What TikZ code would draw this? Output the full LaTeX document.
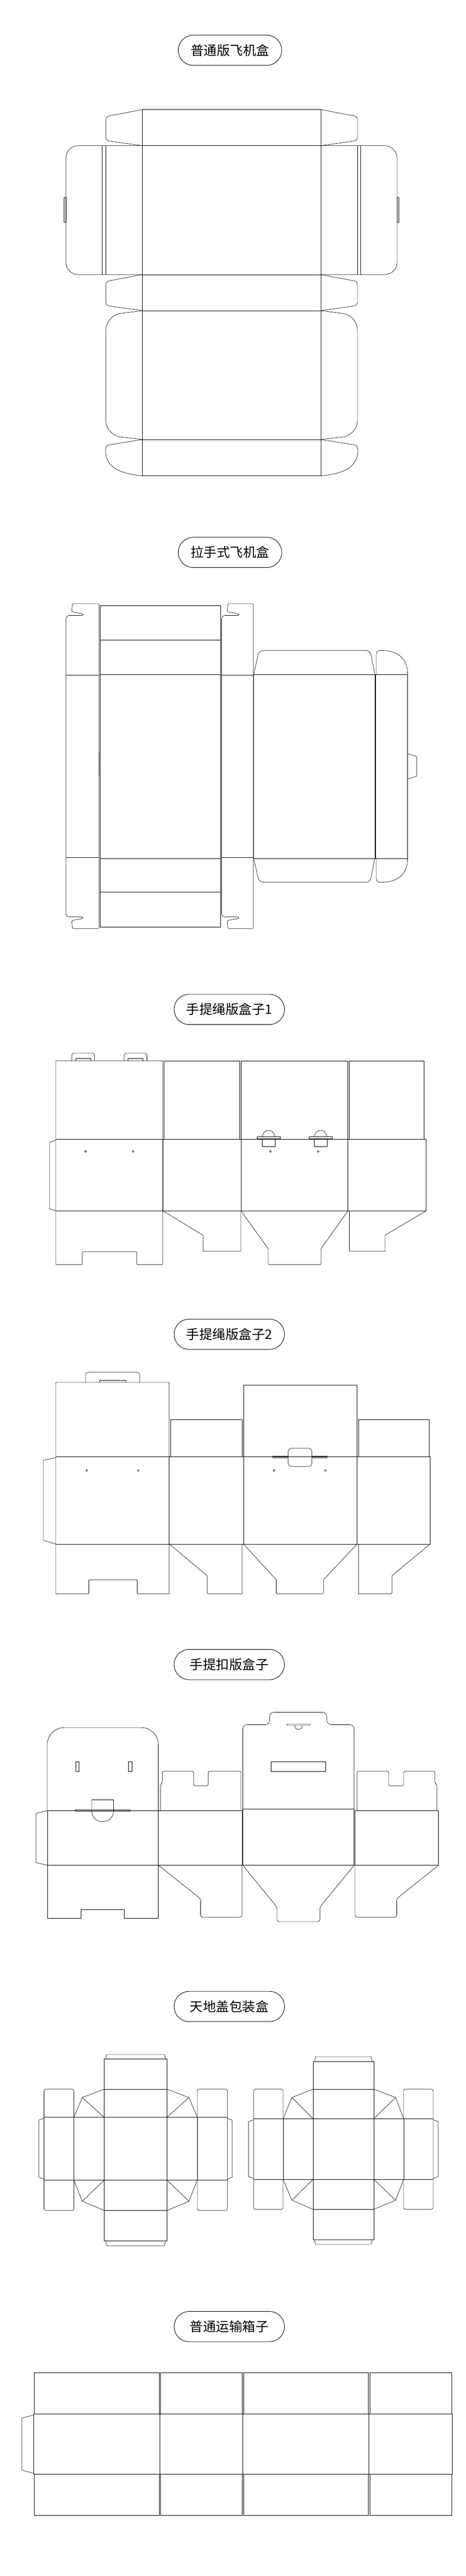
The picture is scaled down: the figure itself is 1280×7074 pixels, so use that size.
\documentclass[tikz,border=0pt]{standalone}
\usepackage{fontspec}
\newfontfamily\cjk{Noto Sans CJK SC}
\begin{document}
\begin{tikzpicture}[x=1pt,y=-1pt,line width=0.9pt,line join=round,
  pill/.style={draw,line width=1.3pt,rounded corners=41pt,minimum height=83pt,inner sep=0pt,font=\cjk\fontsize{36}{36}\selectfont}]
\useasboundingbox (0,0) rectangle (1280,7074);
% ===== titles
\node[pill,minimum width=284pt] (t1) at (632,138) {普通版飞机盒};
\node[pill,minimum width=284pt] (t2) at (632,1517) {拉手式飞机盒};
\node[pill,minimum width=303pt] (t3) at (630,2772) {手提绳版盒子1};
\node[pill,minimum width=303pt] (t4) at (630,3664) {手提绳版盒子2};
\node[pill,minimum width=303pt] (t5) at (630,4571) {手提扣版盒子};
\node[pill,minimum width=303pt] (t6) at (630,5510) {天地盖包装盒};
\node[pill,minimum width=303pt] (t7) at (630,6389) {普通运输箱子};
% ===== section 1
\draw (391,301) rectangle (882,1307);
\foreach \y in {400,754,853,1207} \draw (391,\y) -- (882,\y);
\foreach \a/\b in {301/400,754/853}{
  \draw[rounded corners=8] (391,\a) -- (291,\a+19) -- (291,\b-14) -- (391,\b);
  \draw[rounded corners=8] (882,\a) -- (982,\a+19) -- (982,\b-14) -- (882,\b);}
\draw[rounded corners=34] (391,400) -- (181,400) -- (181,754) -- (391,754);
\draw[rounded corners=34] (882,400) -- (1091,400) -- (1091,754) -- (882,754);
\draw (281,400) -- (281,754) (291,400) -- (291,754) (982,400) -- (982,754) (991,400) -- (991,754);
\draw (181,543) rectangle (176,610) (1091,543) rectangle (1096,610);
\draw[rounded corners=40] (391,853) -- (291,866) -- (291,1195) -- (391,1207);
\draw[rounded corners=40] (882,853) -- (982,866) -- (982,1195) -- (882,1207);
\draw (391,1207) -- (297,1222) .. controls (289,1224) and (288,1240) .. (292,1254) .. controls (302,1285) and (325,1299) .. (391,1307);
\draw (882,1207) -- (976,1222) .. controls (984,1224) and (985,1240) .. (981,1254) .. controls (971,1285) and (948,1299) .. (882,1307);
% ===== section 2
\draw[rounded corners=3] (272,1658) -- (199,1658) -- (197,1680) -- (228,1686) -- (228,1690) -- (186,1690) -- (181,1697) -- (181,2512) -- (186,2518) -- (228,2518) -- (228,2522) -- (197,2528) -- (199,2550) -- (272,2550) -- cycle;
\draw (181,1854) -- (272,1854) (181,2354) -- (272,2354);
\draw (275,1663) rectangle (606,2546);
\foreach \y in {1758,1852,2357,2450} \draw (275,\y) -- (606,\y);
\draw[rounded corners=3] (696,1658) -- (626,1658) -- (624,1680) -- (656,1686) -- (656,1690) -- (614,1690) -- (609,1697) -- (609,2512) -- (614,2518) -- (656,2518) -- (656,2522) -- (624,2528) -- (626,2550) -- (696,2550) -- cycle;
\draw (609,1854) -- (696,1854) (609,2354) -- (696,2354);
\draw (697,1852) rectangle (1030,2357);
\draw[rounded corners=12] (697,1852) -- (712,1786) -- (1017,1786) -- (1030,1852);
\draw[rounded corners=12] (697,2357) -- (712,2423) -- (1017,2423) -- (1030,2357);
\draw (1032,1852) rectangle (1120,2357);
\draw (1034,1852) -- (1034,1796) .. controls (1034,1790) and (1038,1786) .. (1046,1786) .. controls (1095,1786) and (1120,1810) .. (1120,1852);
\draw (1034,2357) -- (1034,2413) .. controls (1034,2419) and (1038,2423) .. (1046,2423) .. controls (1095,2423) and (1120,2399) .. (1120,2357);
\draw[rounded corners=3] (1120,2070) -- (1145,2077) -- (1145,2132) -- (1120,2139);
\draw (272,2065) -- (272,2130);
% ===== section 3
\draw[rounded corners=2] (153,2913) -- (447,2913) -- (447,3473) -- (376,3473) -- (376,3437) -- (226,3437) -- (226,3473) -- (153,3473) -- cycle;
\draw (153,3129) -- (447,3129) (153,3325) -- (447,3325);
\foreach \a/\b in {197/260,341/404}{
  \draw[rounded corners=6] (\a,2913) -- (\a,2892) -- (\b,2892) -- (\b,2913);
  \draw (\a+11,2913) -- (\a+11,2907) -- (\b-11,2907) -- (\b-11,2913);}
\foreach \x in {235,366} \draw (\x,3162) circle (2.5);
\draw (153,3131) -- (136,3137) -- (136,3319) -- (153,3325);
\draw (451,3129) -- (451,2913) -- (658,2913) -- (658,3129);
\draw (447,3129) rectangle (662,3325);
\draw (447,3325) -- (558,3392) -- (558,3436) -- (662,3436) -- (662,3325);
\draw (662,2913) rectangle (956,3325);
\draw (662,3129) -- (956,3129);
\foreach \a in {706,849}{
  \draw (\a,3122) rectangle (\a+64,3127);
  \draw (\a+14,3127) rectangle (\a+50,3148);
  \draw (\a+14,3122) .. controls (\a+18,3108) and (\a+24,3104) .. (\a+32,3104) .. controls (\a+40,3104) and (\a+46,3108) .. (\a+50,3122);}
\foreach \x in {743,874} \draw (\x,3162) circle (2.5);
\draw (662,3325) -- (737,3429) -- (737,3470) -- (740,3473) -- (879,3473) -- (882,3470) -- (882,3429) -- (956,3325);
\draw (960,3129) -- (960,2913) -- (1165,2913) -- (1165,3129);
\draw (956,3129) rectangle (1171,3325);
\draw (960,3325) -- (960,3436) -- (1058,3436) -- (1058,3392) -- (1171,3325);
% ===== section 4
\draw[rounded corners=2] (153,3796) -- (465,3796) -- (465,4377) -- (377,4377) -- (377,4338) -- (244,4338) -- (244,4377) -- (153,4377) -- cycle;
\draw (153,4000) -- (465,4000) (153,4240) -- (465,4240);
\draw[rounded corners=8] (235,3798) -- (235,3768) -- (384,3768) -- (384,3798);
\draw (273,3796) -- (273,3790) -- (345,3790) -- (345,3796);
\foreach \x in {238,380,753,894} \draw (\x,4038) circle (2.5);
\draw (153,4003) -- (119,4010) -- (119,4230) -- (153,4240);
\draw (469,4000) -- (469,3898) -- (665,3898) -- (665,4000);
\draw (465,4000) rectangle (669,4240);
\draw (465,4240) -- (569,4327) -- (569,4374) -- (572,4377) -- (665,4377) -- (665,4240);
\draw (669,3803) rectangle (981,4240);
\draw (669,4000) -- (981,4000);
\draw (748,3998) -- (792,3998) (857,3998) -- (900,3998) (748,4003) -- (792,4003) (857,4003) -- (900,4003);
\draw[rounded corners=8] (792,4027) -- (792,3977) -- (857,3977) -- (857,4027) -- cycle;
\draw (669,4240) -- (759,4338) -- (759,4374) -- (762,4377) -- (886,4377) -- (889,4374) -- (889,4338) -- (981,4240);
\draw (985,4000) -- (985,3898) -- (1179,3898) -- (1179,4000);
\draw (981,4000) rectangle (1182,4240);
\draw (985,4240) -- (985,4377) -- (1074,4377) -- (1077,4374) -- (1077,4327) -- (1182,4240);
% ===== section 5
\draw[rounded corners=47] (130,4972) -- (130,4744) -- (435,4744) -- (435,4972);
\draw (130,4972) rectangle (435,5122);
\draw (130,5122) -- (130,5268) -- (222,5268) -- (222,5243) -- (342,5243) -- (342,5268) -- (435,5268) -- (435,5122);
\draw (209,4837) rectangle (217,4864) (353,4837) rectangle (362,4864);
\draw[rounded corners=28] (252,4942) -- (252,5002) -- (312,5002) -- (312,4942);
\draw (252,4942) -- (312,4942);
\draw[rounded corners=2.5] (205,4969) rectangle (359,4974);
\draw (130,4972) -- (99,4980) -- (99,5115) -- (130,5122);
\draw (435,4972) rectangle (665,5122);
\draw[rounded corners=4] (441,4972) -- (441,4900) -- (446,4897) -- (446,4864) -- (532,4864) -- (532,4904) -- (572,4904) -- (572,4864) -- (662,4864) -- (662,4972);
\draw[rounded corners=6] (435,5122) -- (551,5214) -- (551,5265) -- (665,5265) -- (665,5122);
\draw[rounded corners=12] (667,4968) -- (667,4736) -- (741,4736) -- (741,4702) -- (898,4702) -- (898,4736) -- (973,4736) -- (973,4968);
\draw[rounded corners=2] (788,4734) rectangle (852,4738);
\draw[rounded corners=8] (810,4738) -- (810,4749) -- (830,4749) -- (830,4738);
\draw (744,4837) rectangle (895,4865);
\draw (667,4968) rectangle (973,5122);
\draw[rounded corners=6] (667,5122) -- (761,5237) -- (761,5277) -- (879,5277) -- (879,5237) -- (973,5122);
\draw (975,4972) rectangle (1205,5122);
\draw[rounded corners=4] (981,4972) -- (981,4864) -- (1068,4864) -- (1068,4904) -- (1109,4904) -- (1109,4864) -- (1195,4864) -- (1195,4897) -- (1200,4900) -- (1200,4972);
\draw[rounded corners=6] (1205,5122) -- (1090,5214) -- (1090,5265) -- (975,5265) -- (975,5122);
% ===== section 6 (two nets)
\foreach \Ca/\Cb/\Sa/\Sb/\Oa/\Ob/\Ga/\Gb/\Va/\Vb/\ya/\yb/\yc/\yd/\ye/\yf/\yg/\yh in
 {286/459/203/542/121/625/107/638/226/519/5642/5654/5737/5814/5987/6070/6153/6167,
  860/1027/778/1109/697/1190/683/1204/802/1087/5648/5661/5737/5818/5985/6067/6150/6163}{
  \draw (\Ca,\yb) rectangle (\Cb,\yg);
  \foreach \y in {\yc,\yd,\ye,\yf} \draw (\Ca,\y) -- (\Cb,\y);
  \draw (\Ca+4,\yb) -- (\Ca+7,\ya) -- (\Cb-7,\ya) -- (\Cb-4,\yb);
  \draw (\Ca+4,\yg) -- (\Ca+7,\yh) -- (\Cb-7,\yh) -- (\Cb-4,\yg);
  \draw (\Sa,\yd) rectangle (\Sb,\ye);
  \draw[rounded corners=5] (\Sa,\yd) -- (\Sa,\yc) -- (\Oa,\yc) -- (\Oa,\yf) -- (\Sa,\yf) -- (\Sa,\ye);
  \draw[rounded corners=5] (\Sb,\yd) -- (\Sb,\yc) -- (\Ob,\yc) -- (\Ob,\yf) -- (\Sb,\yf) -- (\Sb,\ye);
  \draw (\Oa,\yd) -- (\Sa,\yd) (\Oa,\ye) -- (\Sa,\ye) (\Ob,\yd) -- (\Sb,\yd) (\Ob,\ye) -- (\Sb,\ye);
  \draw (\Oa,\yd+3) -- (\Ga,\yd+8) -- (\Ga,\ye-8) -- (\Oa,\ye-3);
  \draw (\Ob,\yd+3) -- (\Gb,\yd+8) -- (\Gb,\ye-8) -- (\Ob,\ye-3);
  \draw (\Ca,\yc) -- (\Va,\yc+23) -- (\Sa,\yd) (\Va,\yc+23) -- (\Ca,\yd);
  \draw (\Cb,\yc) -- (\Vb,\yc+23) -- (\Sb,\yd) (\Vb,\yc+23) -- (\Cb,\yd);
  \draw (\Ca,\yf) -- (\Va,\yf-25) -- (\Sa,\ye) (\Va,\yf-25) -- (\Ca,\ye);
  \draw (\Cb,\yf) -- (\Vb,\yf-25) -- (\Sb,\ye) (\Vb,\yf-25) -- (\Cb,\ye);
}
% ===== section 7
\foreach \a/\b in {94/437,441/665,670/1012,1016/1241}{
  \draw (\a,6515) rectangle (\b,6629);
  \draw (\a,6794) rectangle (\b,6908);}
\draw (92,6629) rectangle (1242,6794);
\foreach \x in {439,667,1014} \draw (\x,6629) -- (\x,6794);
\draw (92,6632) -- (60,6640) -- (60,6783) -- (92,6792);
\end{tikzpicture}
\end{document}
